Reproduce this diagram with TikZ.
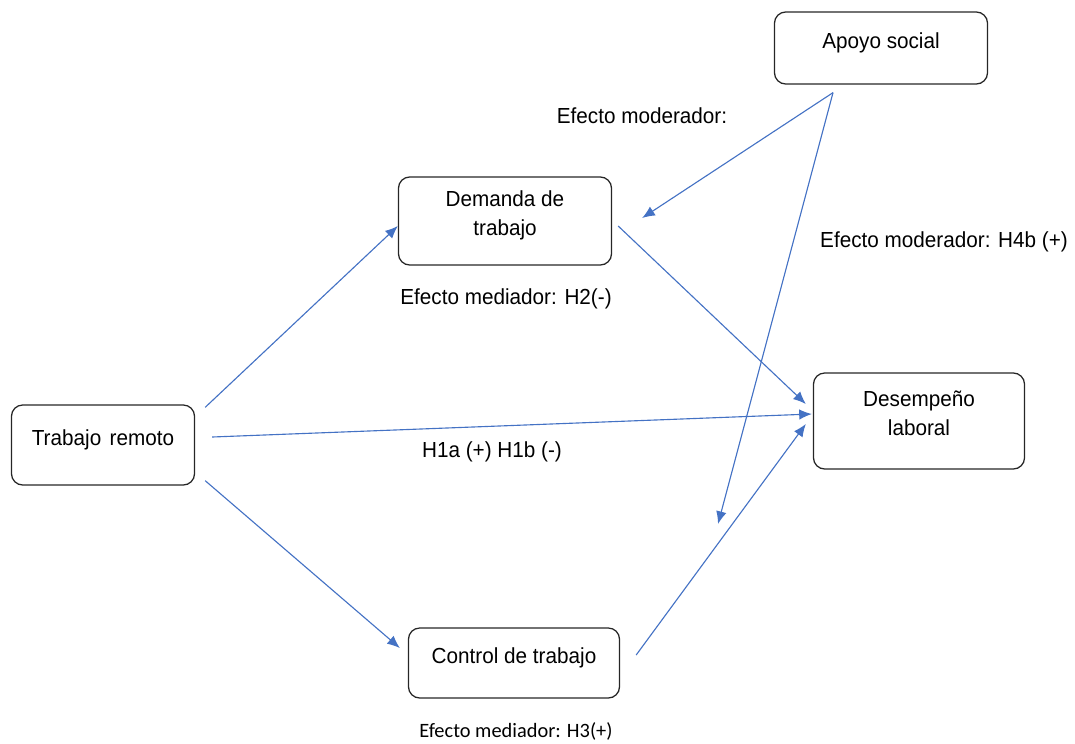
\documentclass[tikz,border=0pt]{standalone}
\usepackage{fontspec}
\setmainfont{Liberation Sans}[FakeStretch=0.95]
\newfontfamily\calib{Carlito}
\usepackage{xcolor}
\usepackage{tikz}
\usetikzlibrary{arrows.meta,calc}
\definecolor{linkblue}{RGB}{68,114,196}
\tikzset{box/.style={draw=black!85, line width=0.9pt, rounded corners=8pt, align=center,
    font=\fontsize{15.5}{21}\selectfont, execute at end node={\rule[-11pt]{0pt}{11pt}}}}
\tikzset{link/.style={draw=linkblue, line width=0.8pt, -{Latex[length=9pt,width=7.5pt]}}}
\tikzset{lbl/.style={font=\fontsize{15.5}{18}\selectfont}}

\begin{document}
\begin{tikzpicture}[x=0.025cm,y=-0.025cm]
\useasboundingbox (0,0) rectangle (1075,743);
\node[box, minimum width=5.325cm, minimum height=1.8cm] (apo) at (881,48) {Apoyo social};
\node[box, minimum width=5.325cm, minimum height=2.2cm] (dem) at (505,221) {Demanda de\\trabajo};
\node[box, minimum width=4.575cm, minimum height=2.0cm] (tr) at (103,445) {Trabajo\hspace{6pt}remoto};
\node[box, minimum width=5.275cm, minimum height=2.4cm] (des) at (919,421) {Desempeño\\laboral};
\node[box, minimum width=5.275cm, minimum height=1.75cm] (ctrl) at (514,663) {Control de trabajo};
\node[lbl] (m1) at (642,116) {Efecto moderador:};
\node[lbl] (m2) at (944,242) {Efecto moderador: H4b (+)};
\node[lbl] (h2) at (506,299) {Efecto mediador: H2(-)};
\node[lbl] (h1) at (492,452) {H1a (+) H1b (-)};
\node[lbl, font=\calib\fontsize{14.5}{17}\selectfont] (h3) at (516,731) {Efecto mediador: H3(+)};
\coordinate (ctrlhint) at (718,524);
\draw[link] ($(tr.north east)+(10,3)$) -- ($(dem.west)+(0,5)$);
\draw[link] ($(tr.east)+(17,-8)$) -- ($(des.west)+(-1,-7)$);
\draw[link] ($(tr.south east)+(10,-5)$) -- ($(ctrl.west)+(-8,-15)$);
\draw[link] ($(dem.east)+(6,5)$) -- ($(des.west)+(-7,-17)$);
\draw[link] ($(ctrl.east)+(16,-8)$) -- ($(des.west)+(-7,3)$);
\draw[link] ($(apo.south)+(-48,8)$) -- ($(dem.east)+(30,-3)$);
\draw[link] ($(apo.south)+(-48,8)$) -- (ctrlhint);
\end{tikzpicture}
\end{document}
